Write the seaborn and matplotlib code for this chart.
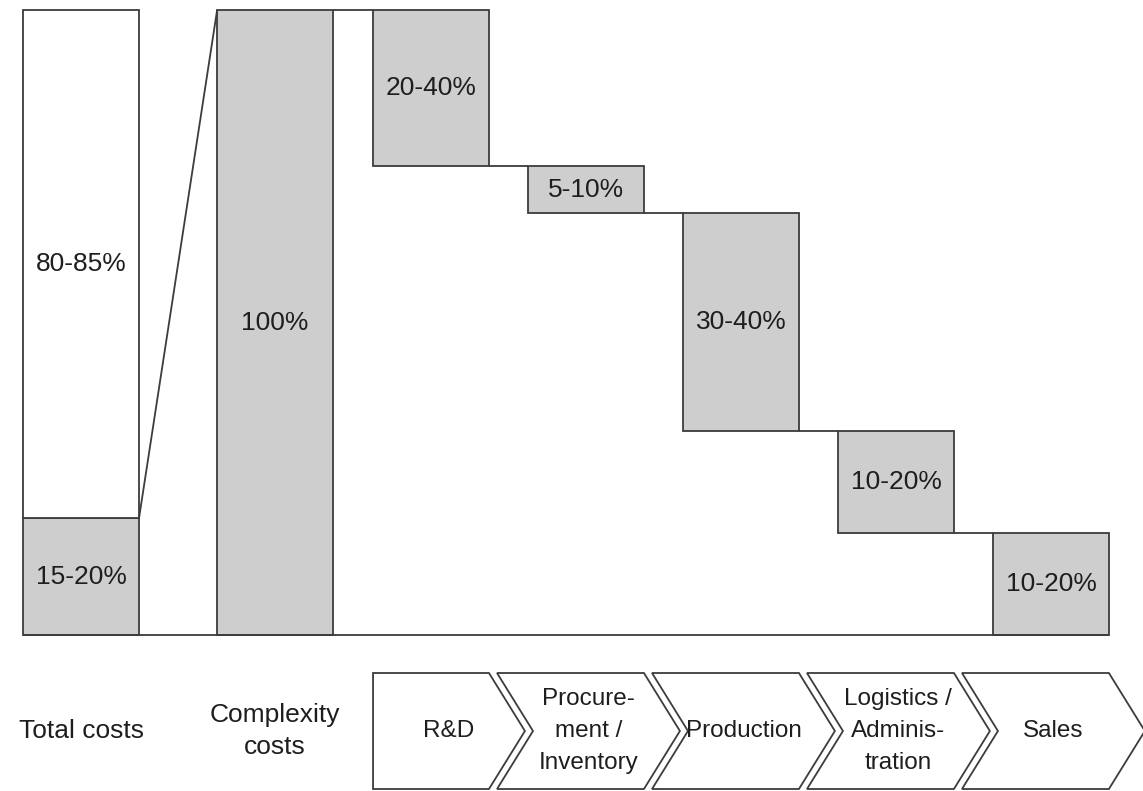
import numpy as np
import pandas as pd
import matplotlib
matplotlib.use("Agg")
import matplotlib.pyplot as plt
from matplotlib.patches import Polygon
import seaborn as sns

# ---- data: shares in % of total costs -------------------------------------
column_names = ["Total costs", "Complexity\ncosts"]
complexity_share = 18.7          # complexity costs as part of total costs
other_share = 81.3               # remaining (non-complexity) costs
complexity_label = "15-20%"
other_label = "80-85%"
complexity_total = 100.0
complexity_total_label = "100%"

stages = ["R&D", "Procure-\nment /\nInventory", "Production",
          "Logistics /\nAdminis-\ntration", "Sales"]
stage_shares = [25.0, 7.5, 34.9, 16.3, 16.3]
stage_labels = ["20-40%", "5-10%", "30-40%", "10-20%", "10-20%"]

# ---- layout -----------------------------------------------------------------
col_pos = [-2.258, -1.006, 0.0, 1.0, 2.0, 3.0, 4.0]   # column centres
bar_w = 0.748
fill = "#cecece"
edge = "#3c3c3c"
lw = 1.3
txt = "#1e1e1e"

sns.set_theme(style="white")
plt.rcParams["font.family"] = ["Liberation Sans", "DejaVu Sans"]

fig = plt.figure(figsize=(11.43, 7.91), dpi=100)
ax = fig.add_axes([0, 0, 1, 1])

# waterfall: each stage hangs from the level left by the previous stages
levels = complexity_total - np.cumsum(stage_shares)
stage_bottoms = levels
heights = [complexity_share, complexity_total] + stage_shares
bottoms = [0.0, 0.0] + list(stage_bottoms)
grey = pd.DataFrame({"pos": col_pos, "height": heights})

sns.barplot(data=grey, x="pos", y="height", native_scale=True, width=bar_w,
            bottom=np.array(bottoms), color=fill, saturation=1,
            edgecolor=edge, linewidth=lw, errorbar=None, ax=ax)

# upper, white part of the total-cost column
white = pd.DataFrame({"pos": [col_pos[0]], "height": [other_share]})
sns.barplot(data=white, x="pos", y="height", native_scale=True,
            width=bar_w, bottom=complexity_share, color="white",
            saturation=1, edgecolor=edge, linewidth=lw, errorbar=None, ax=ax)

half = bar_w / 2
line_kw = dict(color=edge, lw=lw, solid_capstyle="butt", zorder=3)

# link from complexity share of total costs to the 100% column
ax.plot([col_pos[0] + half, col_pos[1] - half],
        [complexity_share, complexity_total], **line_kw)

# step connectors between consecutive columns
steps = [complexity_total] + list(levels[:-1])
for i, lvl in enumerate(steps):
    ax.plot([col_pos[i + 1] + half, col_pos[i + 2] - half], [lvl, lvl], **line_kw)

# baseline
ax.plot([col_pos[0] - half, col_pos[-1] + half], [0, 0], **line_kw)

# value labels
fs = 19
ax.text(col_pos[0], complexity_share / 2, complexity_label, ha="center",
        va="center", fontsize=fs, color=txt)
ax.text(col_pos[0], complexity_share + other_share / 2, other_label,
        ha="center", va="center", fontsize=fs, color=txt)
ax.text(col_pos[1], complexity_total / 2, complexity_total_label,
        ha="center", va="center", fontsize=fs, color=txt)
for p, b, h, lab in zip(col_pos[2:], stage_bottoms, stage_shares, stage_labels):
    ax.text(p, b + h / 2, lab, ha="center", va="center", fontsize=fs, color=txt)

# ---- process chevrons below the chart ----------------------------------------
ch_top, ch_bot = -6.08, -24.64
ch_mid = (ch_top + ch_bot) / 2
depth = 0.232
gap = 0.052
prev_right = None
for i, (p, name) in enumerate(zip(col_pos[2:], stages)):
    right = p + half
    if prev_right is None:
        left = p - half
        pts = [(left, ch_top), (right, ch_top), (right + depth, ch_mid),
               (right, ch_bot), (left, ch_bot)]
    else:
        left = prev_right + gap
        pts = [(left, ch_top), (right, ch_top), (right + depth, ch_mid),
               (right, ch_bot), (left, ch_bot), (left + depth, ch_mid)]
    ax.add_patch(Polygon(pts, closed=True, facecolor="white", edgecolor=edge,
                         lw=lw, joinstyle="miter", zorder=2))
    ax.text((left + right + depth) / 2, ch_mid, name, ha="center",
            va="center", fontsize=17.5, color=txt, linespacing=1.58, zorder=4)
    prev_right = right

for p, name in zip(col_pos[:2], column_names):
    ax.text(p, ch_mid, name, ha="center", va="center", fontsize=fs,
            color=txt, linespacing=1.4)

ax.set_xlim(-2.781, 4.594)
ax.set_ylim(-24.96, 101.6)
ax.set_axis_off()

fig.savefig("out.png", dpi=100, facecolor="white")
